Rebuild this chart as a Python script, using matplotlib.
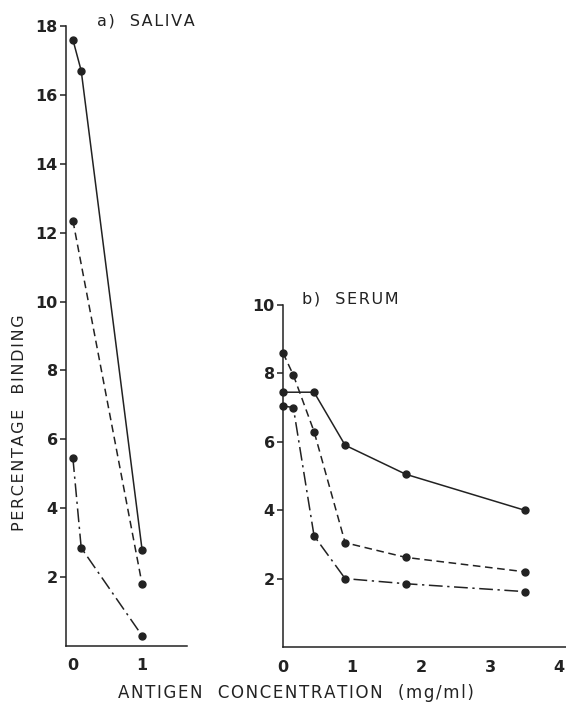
import matplotlib.pyplot as plt

plt.rcParams['font.family'] = ['DejaVu Sans']

# a) saliva
sal_x_solid = [0, 0.12, 1.0]
sal_y_solid = [17.6, 16.7, 2.8]
sal_x_dash = [0, 1.0]
sal_y_dash = [12.35, 1.8]
sal_x_dot = [0, 0.12, 1.0]
sal_y_dot = [5.45, 2.85, 0.3]

# b) serum
ser_x = [0, 0.15, 0.45, 0.9, 1.78, 3.5]
ser_x_solid = [0, 0.45, 0.9, 1.78, 3.5]
ser_y_solid = [7.45, 7.45, 5.9, 5.05, 4.0]
ser_y_dash = [8.6, 7.95, 6.3, 3.05, 2.62, 2.2]
ser_y_dot = [7.05, 7.0, 3.25, 2.0, 1.85, 1.62]

ink = '#222222'
lw = 1.1
ms = 5
dashdot = (0, (9, 3, 1.5, 3))
dashed = (0, (5, 3))


def spaced(s):
    # loose letter spacing like the original typesetting
    return '\u200a'.join(s)


fig = plt.figure(figsize=(5.66, 7.13), dpi=100)
fig.patch.set_facecolor('white')

ax1 = fig.add_axes([66/566, 1 - 646/713, 121/566, 620/713])
ax2 = fig.add_axes([283/566, 1 - 647/713, 283/566, 342/713])

ax1.plot(sal_x_solid, sal_y_solid, '-', color=ink, lw=lw, marker='o', ms=ms)
ax1.plot(sal_x_dash, sal_y_dash, linestyle=dashed, color=ink, lw=lw, marker='o', ms=ms)
ax1.plot(sal_x_dot, sal_y_dot, linestyle=dashdot, color=ink, lw=lw, marker='o', ms=ms)

ax2.plot(ser_x_solid, ser_y_solid, '-', color=ink, lw=lw, marker='o', ms=ms, clip_on=False)
ax2.plot(ser_x, ser_y_dash, linestyle=dashed, color=ink, lw=lw, marker='o', ms=ms, clip_on=False)
ax2.plot(ser_x, ser_y_dot, linestyle=dashdot, color=ink, lw=lw, marker='o', ms=ms, clip_on=False)

ax1.set_xlim(-0.1, 1.65)
ax1.set_ylim(0, 18)
ax1.set_xticks([0, 1])
ax1.set_yticks([2, 4, 6, 8, 10, 12, 14, 16, 18])

ax2.set_xlim(0, 4.1)
ax2.set_ylim(0, 10)
ax2.set_xticks([0, 1, 2, 3, 4])
ax2.set_yticks([2, 4, 6, 8, 10])

for ax in (ax1, ax2):
    ax.set_facecolor('none')
    for s in ('top', 'right'):
        ax.spines[s].set_visible(False)
    for s in ('left', 'bottom'):
        ax.spines[s].set_color(ink)
        ax.spines[s].set_linewidth(1.1)
    ax.tick_params(axis='y', direction='out', length=4, width=1.1, color=ink,
                   pad=2, labelsize=11.5, labelcolor=ink)
    ax.tick_params(axis='x', length=0, pad=9, labelsize=11.5, labelcolor=ink)
    for lab in ax.get_xticklabels() + ax.get_yticklabels():
        lab.set_fontweight('bold')

fig.text(97/566, 1 - 25/713, spaced('a)  SALIVA'), fontsize=11.5, color=ink)
fig.text(302/566, 1 - 304/713, spaced('b)  SERUM'), fontsize=11.5, color=ink)
fig.text(20/566, 1 - 423/713, spaced('PERCENTAGE  BINDING'), rotation=90,
         fontsize=11.5, color=ink, ha='center', va='center')
fig.text(296/566, 1 - 693/713, spaced('ANTIGEN  CONCENTRATION  (mg/ml)'),
         fontsize=12, color=ink, ha='center', va='center')

fig.savefig('out.png', dpi=100)
